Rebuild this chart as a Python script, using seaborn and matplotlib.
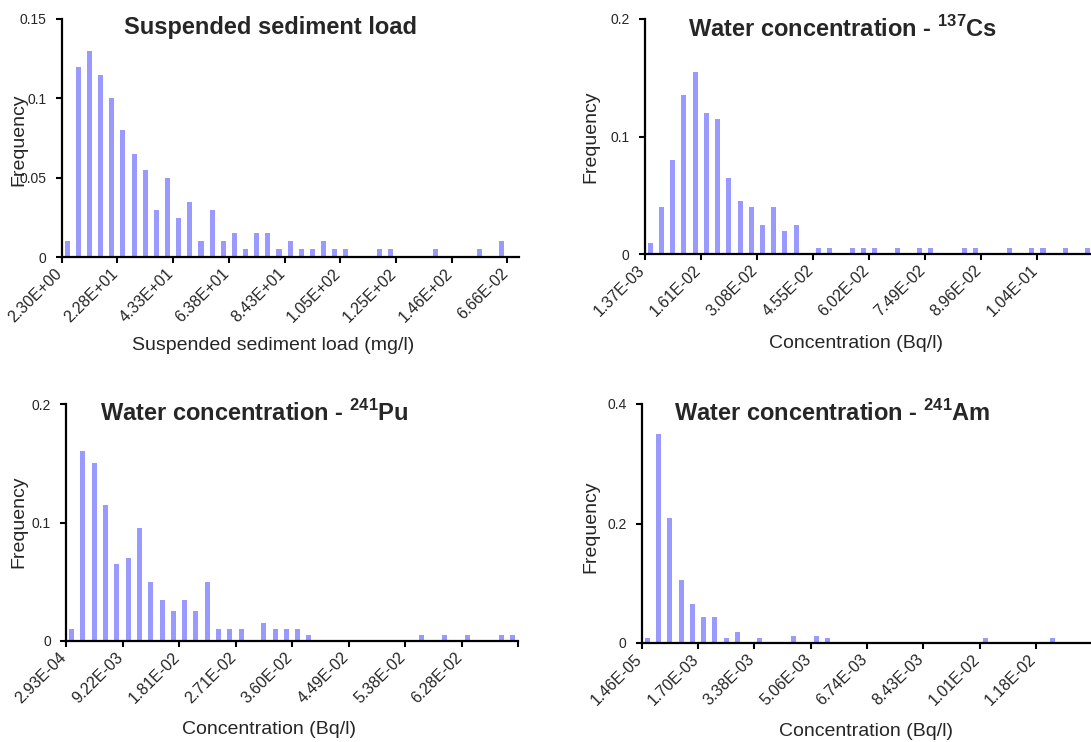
import matplotlib
matplotlib.use("Agg")
import matplotlib.pyplot as plt
import matplotlib.transforms as mtransforms
import pandas as pd
import seaborn as sns

# Relative frequency of each class (one value per bin, left to right)
sediment_freq = [0.01, 0.12, 0.13, 0.115, 0.10, 0.08, 0.065, 0.055, 0.03, 0.05,
                 0.025, 0.035, 0.01, 0.03, 0.01, 0.015, 0.005, 0.015, 0.015, 0.005,
                 0.01, 0.005, 0.005, 0.01, 0.005, 0.005, 0, 0, 0.005, 0.005,
                 0, 0, 0, 0.005, 0, 0, 0, 0.005, 0, 0.01, 0]
sediment_ticks = ["2.30E+00", "2.28E+01", "4.33E+01", "6.38E+01", "8.43E+01",
                  "1.05E+02", "1.25E+02", "1.46E+02", "6.66E-02"]

cs137_freq = [0.01, 0.04, 0.08, 0.135, 0.155, 0.12, 0.115, 0.065, 0.045, 0.04,
              0.025, 0.04, 0.02, 0.025, 0, 0.005, 0.005, 0, 0.005, 0.005,
              0.005, 0, 0.005, 0, 0.005, 0.005, 0, 0, 0.005, 0.005,
              0, 0, 0.005, 0, 0.005, 0.005, 0, 0.005, 0, 0.005]
cs137_ticks = ["1.37E-03", "1.61E-02", "3.08E-02", "4.55E-02", "6.02E-02",
               "7.49E-02", "8.96E-02", "1.04E-01"]

pu241_freq = [0.01, 0.16, 0.15, 0.115, 0.065, 0.07, 0.095, 0.05, 0.035, 0.025,
              0.035, 0.025, 0.05, 0.01, 0.01, 0.01, 0, 0.015, 0.01, 0.01,
              0.01, 0.005, 0, 0, 0, 0, 0, 0, 0, 0,
              0, 0.005, 0, 0.005, 0, 0.005, 0, 0, 0.005, 0.005]
pu241_ticks = ["2.93E-04", "9.22E-03", "1.81E-02", "2.71E-02", "3.60E-02",
               "4.49E-02", "5.38E-02", "6.28E-02", ""]

am241_freq = [0.009, 0.35, 0.21, 0.105, 0.065, 0.0435, 0.0435, 0.009, 0.019, 0.0022,
              0.009, 0.0022, 0, 0.012, 0, 0.012, 0.009, 0.0022, 0.0022, 0,
              0.0022, 0, 0.0022, 0.0022, 0, 0.0022, 0.0022, 0, 0.0022, 0,
              0.009, 0, 0, 0.0022, 0, 0, 0.009, 0, 0, 0.0022]
am241_ticks = ["1.46E-05", "1.70E-03", "3.38E-03", "5.06E-03", "6.74E-03",
               "8.43E-03", "1.01E-02", "1.18E-02"]

sns.set_style("ticks")
plt.rcParams["font.family"] = ["Liberation Sans", "DejaVu Sans"]
plt.rcParams["mathtext.fontset"] = "custom"
plt.rcParams["mathtext.rm"] = "Liberation Sans"
plt.rcParams["mathtext.bf"] = "Liberation Sans:bold"

W, H = 1091, 742
BAR = "#9999ff"
fig = plt.figure(figsize=(W / 100, H / 100), dpi=100)

panels = [
    dict(freq=sediment_freq, ticks=sediment_ticks, ymax=0.15,
         yticks=[0, 0.05, 0.1, 0.15], ylabels=["0", "0.05", "0.1", "0.15"],
         box=(61.7, 518.6, 257.3, 19.0),
         title="Suspended sediment load", title_xy=(271, 34),
         xlabel="Suspended sediment load (mg/l)", xlabel_xy=(273.5, 346),
         ylabel_xy=(19, 140)),
    dict(freq=cs137_freq, ticks=cs137_ticks, ymax=0.2,
         yticks=[0, 0.1, 0.2], ylabels=["0", "0.1", "0.2"],
         box=(644.7, 1093.5, 254.3, 19.0),
         title=r"Water concentration - $^{\mathbf{137}}$Cs", title_xy=(842.5, 37),
         xlabel="Concentration (Bq/l)", xlabel_xy=(856, 343),
         ylabel_xy=(591, 137)),
    dict(freq=pu241_freq, ticks=pu241_ticks, ymax=0.2,
         yticks=[0, 0.1, 0.2], ylabels=["0", "0.1", "0.2"],
         box=(66.0, 518.0, 641.0, 404.0),
         title=r"Water concentration - $^{\mathbf{241}}$Pu", title_xy=(254.5, 421),
         xlabel="Concentration (Bq/l)", xlabel_xy=(269, 729),
         ylabel_xy=(19, 522)),
    dict(freq=am241_freq, ticks=am241_ticks, ymax=0.4,
         yticks=[0, 0.2, 0.4], ylabels=["0", "0.2", "0.4"],
         box=(641.7, 1092.1, 643.0, 404.0),
         title=r"Water concentration - $^{\mathbf{241}}$Am", title_xy=(832, 421),
         xlabel="Concentration (Bq/l)", xlabel_xy=(866, 731),
         ylabel_xy=(591, 527)),
]

# small leftward nudge so each rotated label ends right at its tick
nudge = mtransforms.ScaledTranslation(-2 / 100, 0, fig.dpi_scale_trans)

for p in panels:
    left, right, bottom, top = p["box"]
    ax = fig.add_axes([left / W, 1 - bottom / H, (right - left) / W, (bottom - top) / H])

    def frac(px, py):
        return (px - left) / (right - left), (bottom - py) / (bottom - top)

    n = len(p["freq"])
    df = pd.DataFrame({"bin": list(range(n)), "freq": p["freq"]})
    sns.barplot(data=df, x="bin", y="freq", color=BAR, saturation=1,
                width=0.45, linewidth=0, ax=ax)

    ax.set_xlim(-0.5, n - 0.5)
    ax.set_ylim(0, p["ymax"])
    ax.set_yticks(p["yticks"])
    ax.set_yticklabels(p["ylabels"], fontsize=10)
    ax.set_xticks([-0.5 + 5 * k for k in range(len(p["ticks"]))])
    ax.set_xticklabels(p["ticks"], rotation=45, ha="right", va="center",
                       rotation_mode="anchor", fontsize=11.5)
    ax.tick_params(axis="both", direction="out", length=4, width=1.5,
                   color="black")
    ax.tick_params(axis="x", pad=6)
    ax.tick_params(axis="y", pad=6.8)
    for lab in ax.get_xticklabels():
        lab.set_transform(lab.get_transform() + nudge)
    sns.despine(ax=ax)
    for side in ("left", "bottom"):
        ax.spines[side].set_linewidth(1.6)
        ax.spines[side].set_color("black")

    ax.set_xlabel(p["xlabel"], fontsize=14, va="center")
    ax.xaxis.set_label_coords(*frac(*p["xlabel_xy"]))
    ax.set_ylabel("Frequency", fontsize=14, va="center")
    ax.yaxis.set_label_coords(*frac(*p["ylabel_xy"]))

    tx, ty = frac(*p["title_xy"])
    ax.text(tx, ty, p["title"], transform=ax.transAxes, ha="center",
            va="baseline", fontsize=17, fontweight="bold")

fig.savefig("out.png", dpi=100)
